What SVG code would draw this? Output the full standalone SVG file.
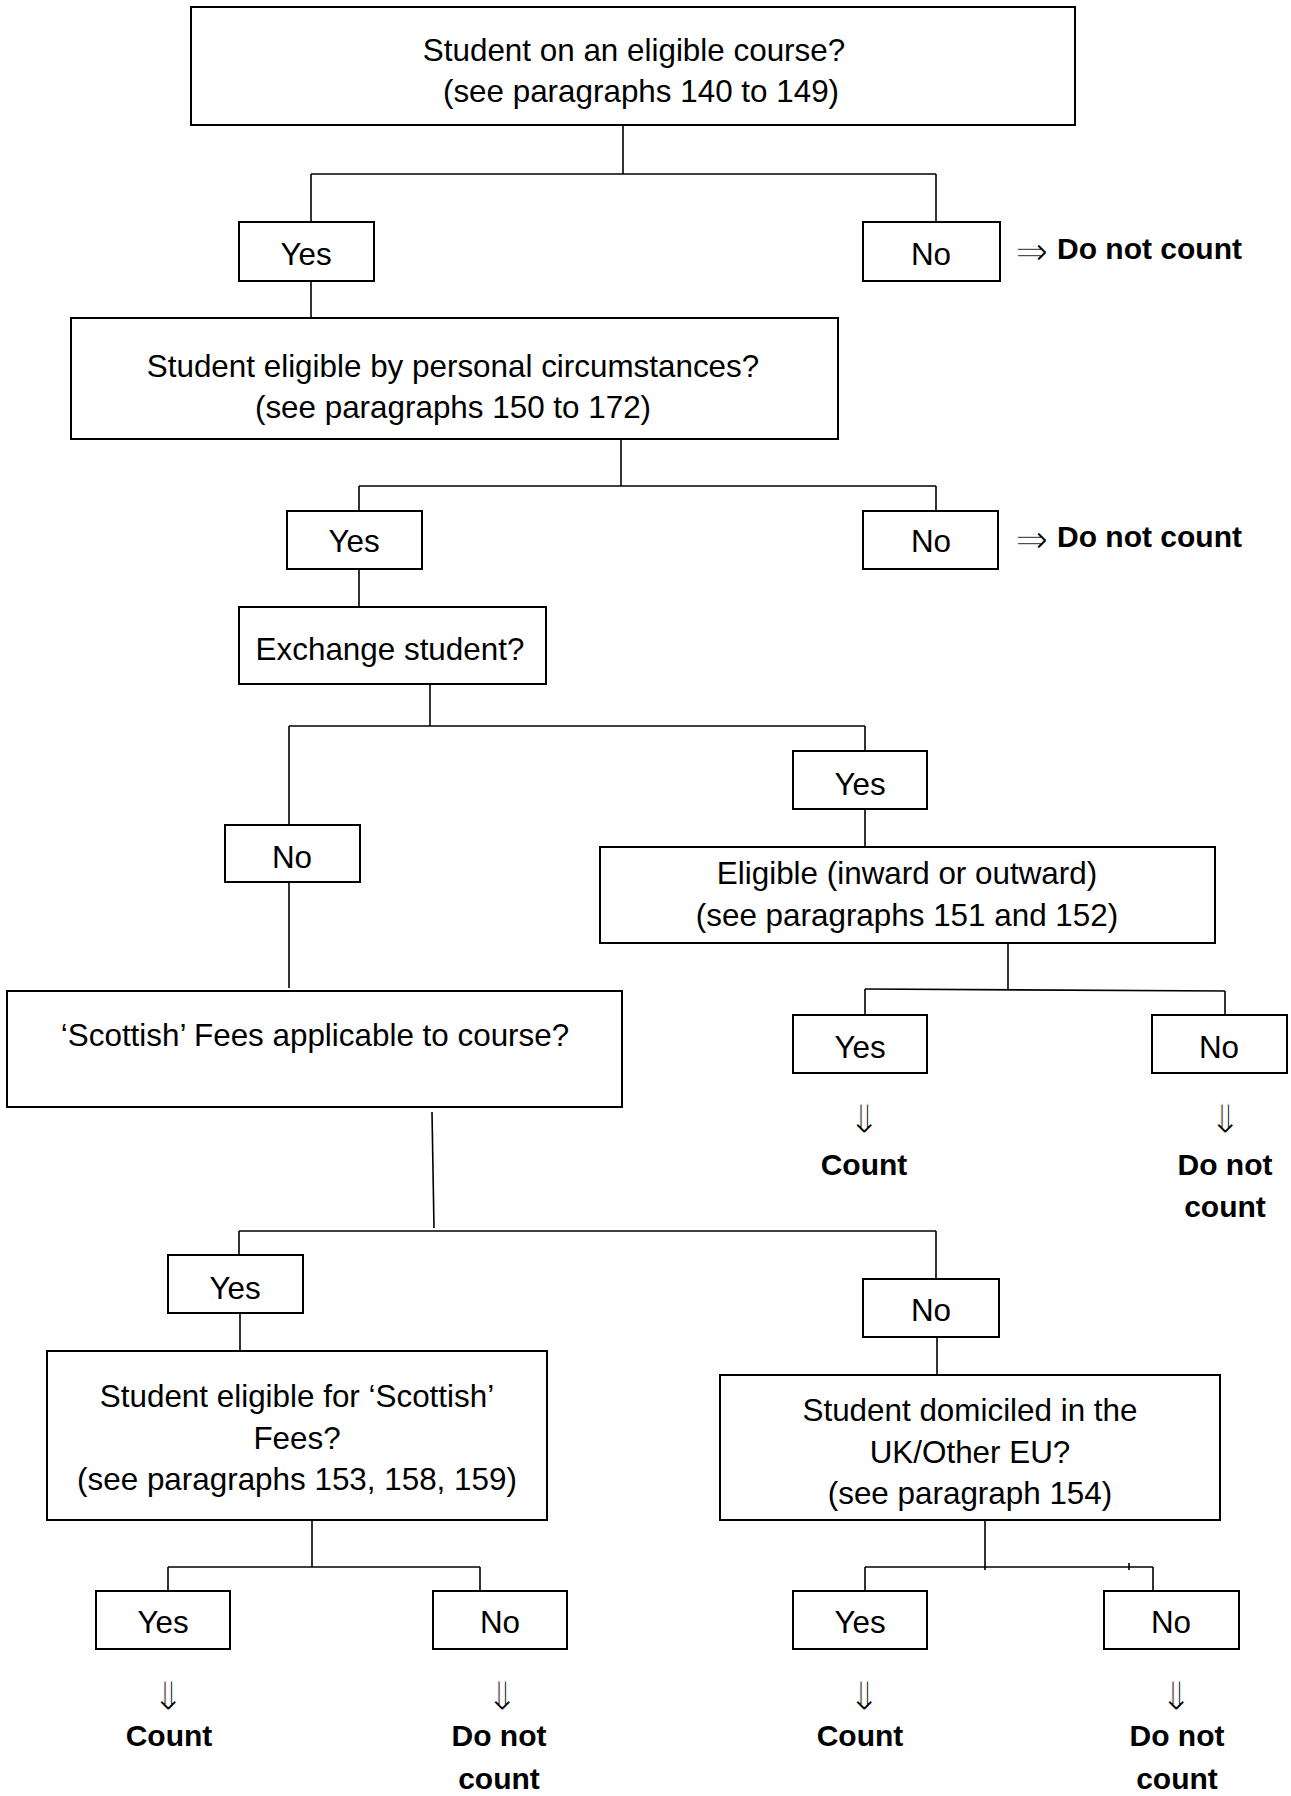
<svg xmlns="http://www.w3.org/2000/svg" width="1291" height="1796" viewBox="0 0 1291 1796">
<style>
rect.b{fill:#fff;stroke:#000;stroke-width:2}
.t{font-family:"Liberation Sans",Arial,sans-serif;font-size:31.4px;fill:#000;text-anchor:middle}
.bt{font-family:"Liberation Sans",Arial,sans-serif;font-size:30px;font-weight:bold;fill:#000}
.bc{text-anchor:middle}
.ar{font-family:"DejaVu Sans",sans-serif;font-size:40px;fill:#000;stroke:#fff;stroke-width:1.2}
.dn{text-anchor:middle}
#connectors line{stroke:#000;stroke-width:1.6}
</style>
<rect width="1291" height="1796" fill="#fff"/>
<g id="connectors">
<line x1="623" y1="125" x2="623" y2="174"/>
<line x1="311" y1="174" x2="936" y2="174"/>
<line x1="311" y1="174" x2="311" y2="222"/>
<line x1="936" y1="174" x2="936" y2="222"/>
<line x1="311" y1="281" x2="311" y2="318"/>
<line x1="621" y1="439" x2="621" y2="486"/>
<line x1="359" y1="486" x2="936" y2="486"/>
<line x1="359" y1="486" x2="359" y2="511"/>
<line x1="936" y1="486" x2="936" y2="511"/>
<line x1="359" y1="569" x2="359" y2="607"/>
<line x1="430" y1="684" x2="430" y2="726"/>
<line x1="289" y1="726" x2="865" y2="726"/>
<line x1="289" y1="726" x2="289" y2="825"/>
<line x1="865" y1="726" x2="865" y2="751"/>
<line x1="865" y1="809" x2="865" y2="847"/>
<line x1="289" y1="882" x2="289" y2="988"/>
<line x1="1008" y1="943" x2="1008" y2="989"/>
<line x1="865" y1="989" x2="1225" y2="991"/>
<line x1="865" y1="989" x2="865" y2="1015"/>
<line x1="1225" y1="991" x2="1225" y2="1015"/>
<line x1="432" y1="1112" x2="434" y2="1228"/>
<line x1="239" y1="1231" x2="936" y2="1231"/>
<line x1="239" y1="1231" x2="239" y2="1255"/>
<line x1="936" y1="1231" x2="936" y2="1279"/>
<line x1="240" y1="1313" x2="240" y2="1351"/>
<line x1="937" y1="1337" x2="937" y2="1375"/>
<line x1="312" y1="1520" x2="312" y2="1567"/>
<line x1="168" y1="1567" x2="480" y2="1567"/>
<line x1="168" y1="1567" x2="168" y2="1591"/>
<line x1="480" y1="1567" x2="480" y2="1591"/>
<line x1="985" y1="1520" x2="985" y2="1570"/>
<line x1="865" y1="1567" x2="1153" y2="1567"/>
<line x1="865" y1="1567" x2="865" y2="1591"/>
<line x1="1153" y1="1567" x2="1153" y2="1591"/>
<line x1="1129" y1="1563" x2="1129" y2="1570"/>
</g>
<g id="q1"><rect class="b" x="191" y="7" width="884" height="118"/><text class="t" x="634" y="61">Student on an eligible course?</text><text class="t" x="641" y="102">(see paragraphs 140 to 149)</text></g>
<g id="yes1"><rect class="b" x="239" y="222" width="135" height="59"/><text class="t" x="306" y="265">Yes</text></g>
<g id="no1"><rect class="b" x="863" y="222" width="137" height="59"/><text class="t" x="931" y="265">No</text></g>
<g id="out1"><text class="ar" x="1015" y="265">⇒</text><text class="bt" x="1057" y="259">Do not count</text></g>
<g id="q2"><rect class="b" x="71" y="318" width="767" height="121"/><text class="t" x="453" y="377">Student eligible by personal circumstances?</text><text class="t" x="453" y="418">(see paragraphs 150 to 172)</text></g>
<g id="yes2"><rect class="b" x="287" y="511" width="135" height="58"/><text class="t" x="354" y="552">Yes</text></g>
<g id="no2"><rect class="b" x="863" y="511" width="135" height="58"/><text class="t" x="931" y="552">No</text></g>
<g id="out2"><text class="ar" x="1015" y="553">⇒</text><text class="bt" x="1057" y="547">Do not count</text></g>
<g id="q3"><rect class="b" x="239" y="607" width="307" height="77"/><text class="t" x="390" y="660">Exchange student?</text></g>
<g id="yes3"><rect class="b" x="793" y="751" width="134" height="58"/><text class="t" x="860" y="795">Yes</text></g>
<g id="no3"><rect class="b" x="225" y="825" width="135" height="57"/><text class="t" x="292" y="868">No</text></g>
<g id="q4"><rect class="b" x="600" y="847" width="615" height="96"/><text class="t" x="907" y="884">Eligible (inward or outward)</text><text class="t" x="907" y="926">(see paragraphs 151 and 152)</text></g>
<g id="yes4"><rect class="b" x="793" y="1015" width="134" height="58"/><text class="t" x="860" y="1058">Yes</text></g>
<g id="no4"><rect class="b" x="1152" y="1015" width="135" height="58"/><text class="t" x="1219" y="1058">No</text></g>
<g id="out4y"><text class="ar dn" x="864" y="1133">⇓</text><text class="bt bc" x="864" y="1175">Count</text></g>
<g id="out4n"><text class="ar dn" x="1225" y="1133">⇓</text><text class="bt bc" x="1225" y="1175">Do not</text><text class="bt bc" x="1225" y="1217">count</text></g>
<g id="q5"><rect class="b" x="7" y="991" width="615" height="116"/><text class="t" x="315" y="1046">‘Scottish’ Fees applicable to course?</text></g>
<g id="yes5"><rect class="b" x="168" y="1255" width="135" height="58"/><text class="t" x="235" y="1299">Yes</text></g>
<g id="no5"><rect class="b" x="863" y="1279" width="136" height="58"/><text class="t" x="931" y="1321">No</text></g>
<g id="q6"><rect class="b" x="47" y="1351" width="500" height="169"/><text class="t" x="297" y="1407">Student eligible for ‘Scottish’</text><text class="t" x="297" y="1449">Fees?</text><text class="t" x="297" y="1490">(see paragraphs 153, 158, 159)</text></g>
<g id="q7"><rect class="b" x="720" y="1375" width="500" height="145"/><text class="t" x="970" y="1421">Student domiciled in the</text><text class="t" x="970" y="1463">UK/Other EU?</text><text class="t" x="970" y="1504">(see paragraph 154)</text></g>
<g id="yes6"><rect class="b" x="96" y="1591" width="134" height="58"/><text class="t" x="163" y="1633">Yes</text></g>
<g id="no6"><rect class="b" x="433" y="1591" width="134" height="58"/><text class="t" x="500" y="1633">No</text></g>
<g id="yes7"><rect class="b" x="793" y="1591" width="134" height="58"/><text class="t" x="860" y="1633">Yes</text></g>
<g id="no7"><rect class="b" x="1104" y="1591" width="135" height="58"/><text class="t" x="1171" y="1633">No</text></g>
<g id="out6y"><text class="ar dn" x="168" y="1710">⇓</text><text class="bt bc" x="169" y="1746">Count</text></g>
<g id="out6n"><text class="ar dn" x="502" y="1710">⇓</text><text class="bt bc" x="499" y="1746">Do not</text><text class="bt bc" x="499" y="1789">count</text></g>
<g id="out7y"><text class="ar dn" x="864" y="1710">⇓</text><text class="bt bc" x="860" y="1746">Count</text></g>
<g id="out7n"><text class="ar dn" x="1176" y="1710">⇓</text><text class="bt bc" x="1177" y="1746">Do not</text><text class="bt bc" x="1177" y="1789">count</text></g>
</svg>
